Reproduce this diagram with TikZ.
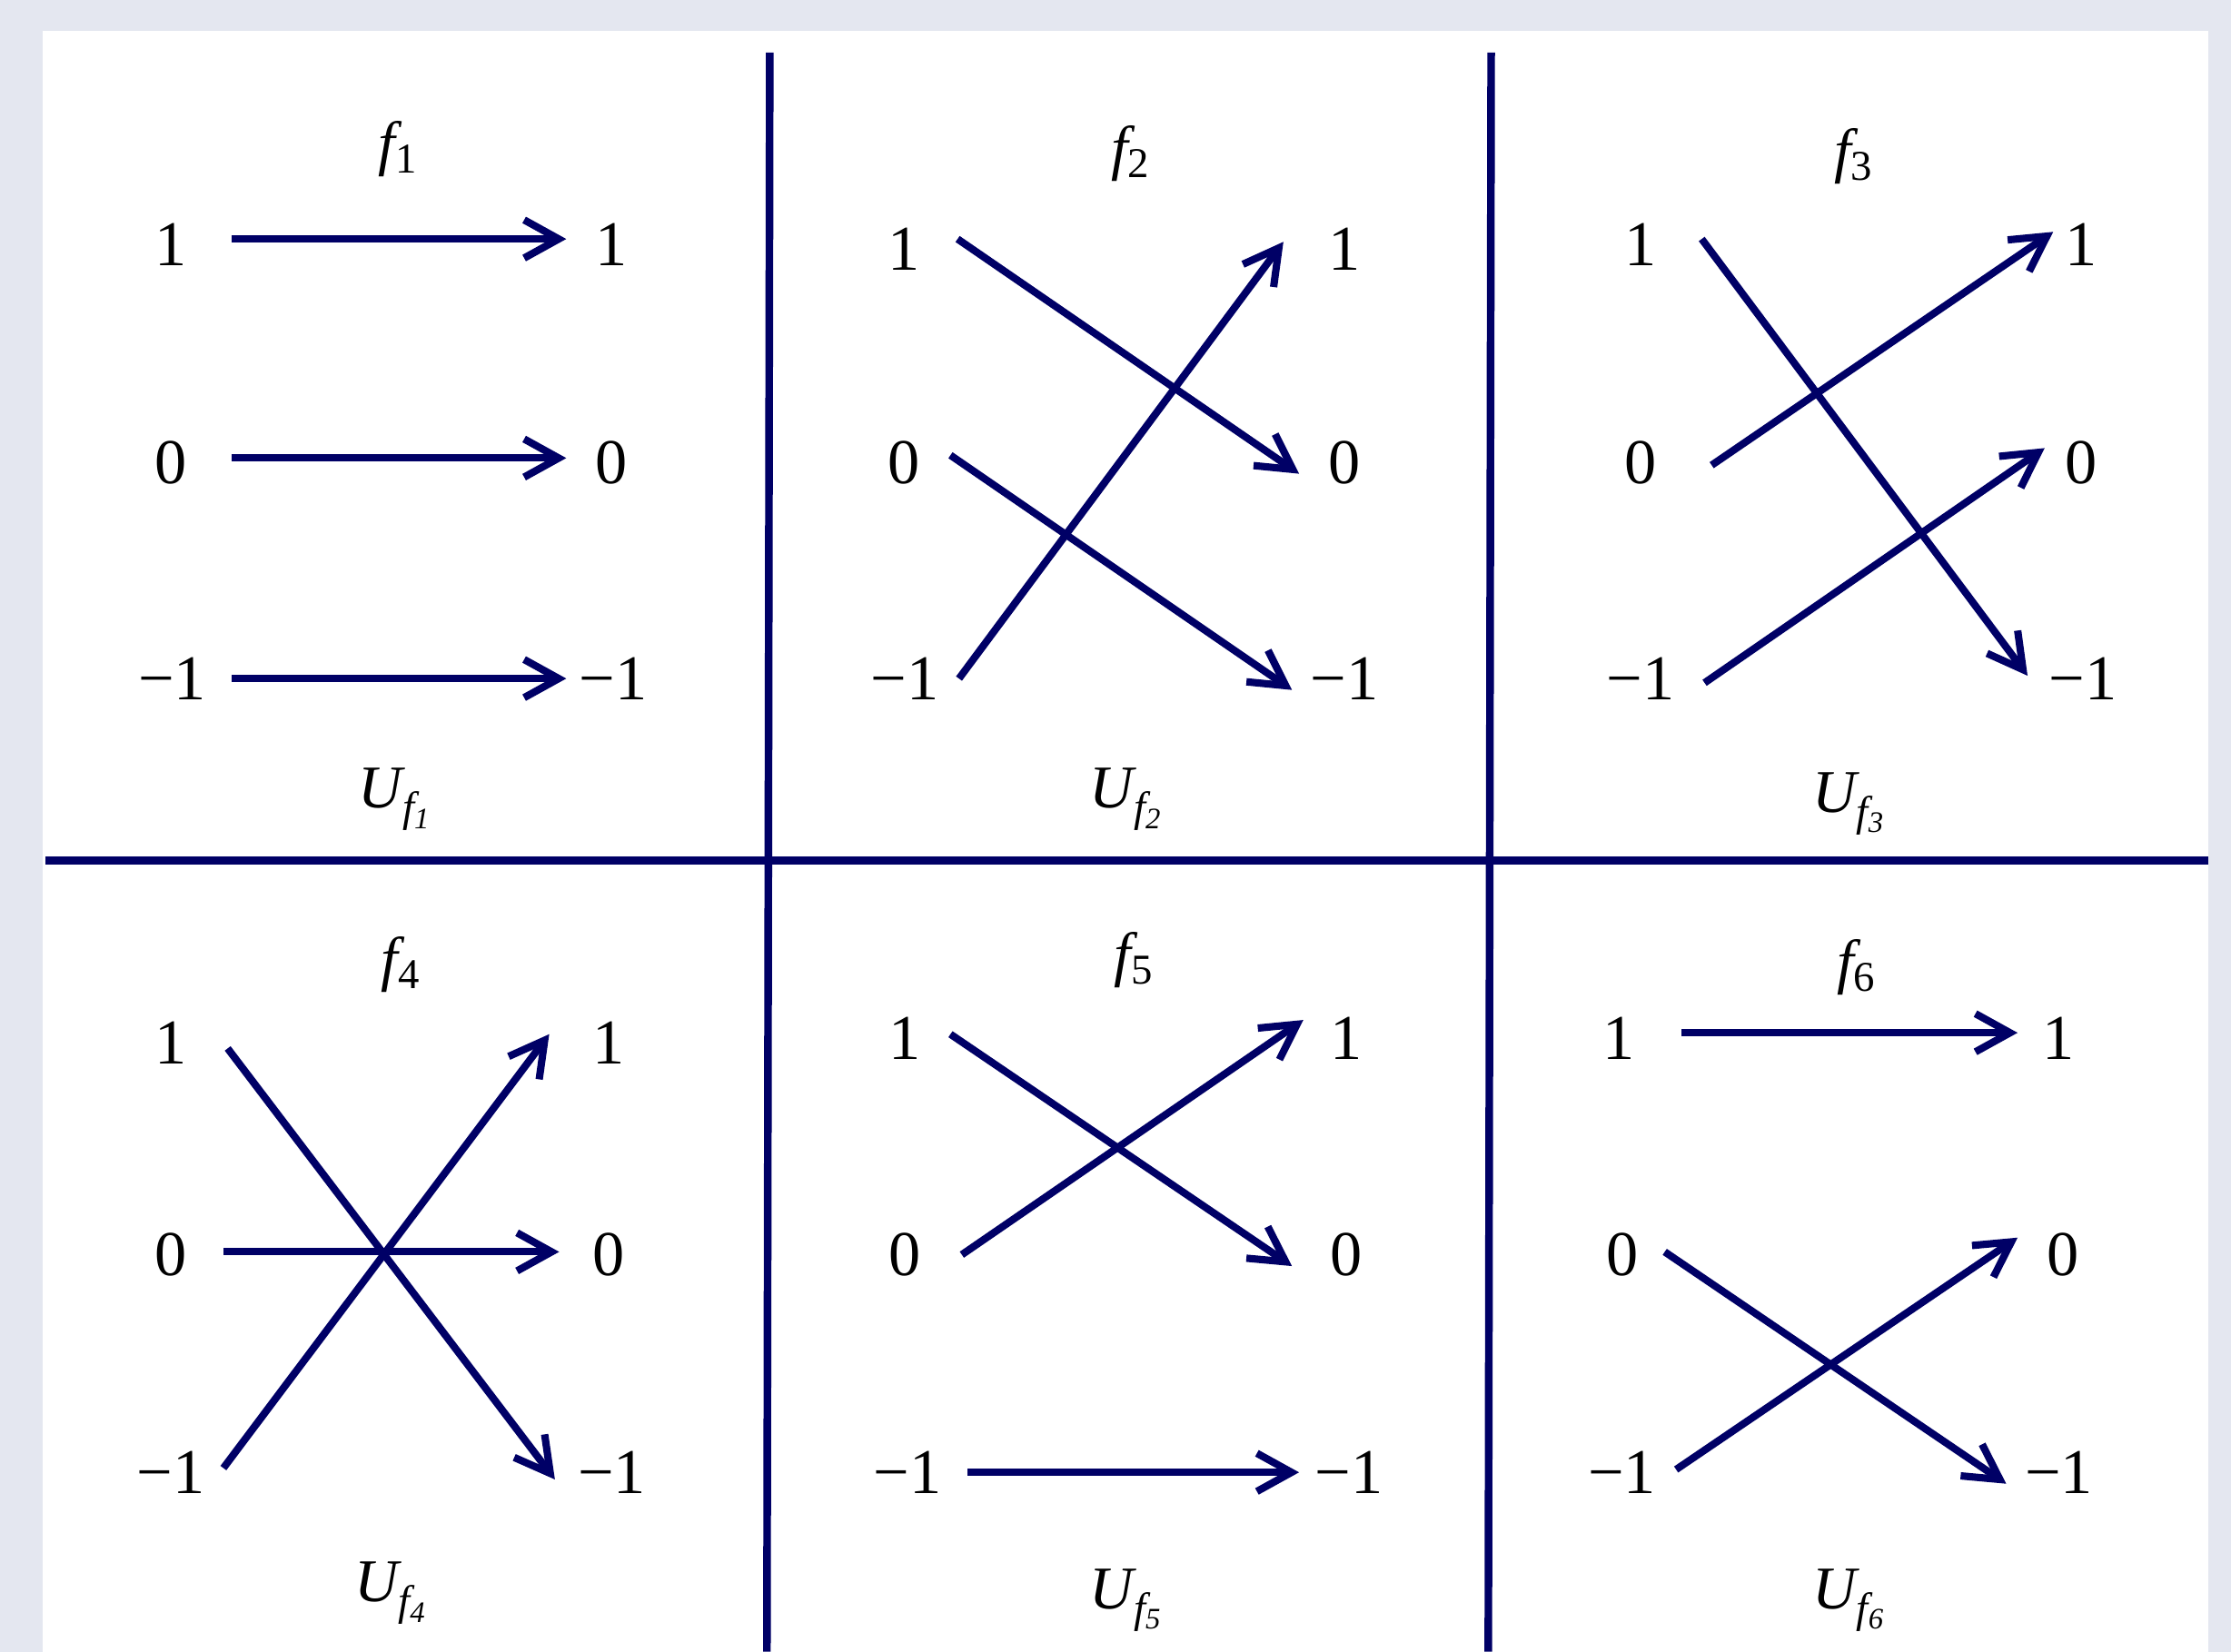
\documentclass[tikz,border=0pt]{standalone}
\usepackage{fontspec}
\setmainfont{Liberation Serif}
\usetikzlibrary{arrows.meta}
\definecolor{navy}{HTML}{000066}
\definecolor{bgc}{HTML}{E4E7F0}
\newcommand{\mysub}[1]{{\itshape U}\textsubscript{\raisebox{-0.25ex}{\itshape f\textsubscript{#1}}}}
\newcommand{\myf}[1]{{\itshape f}\textsubscript{#1}}
\begin{document}
\begin{tikzpicture}[x=0.015663cm,y=-0.015663cm,
  num/.style={inner sep=0pt,font=\fontsize{20}{24}\selectfont},
  lbl/.style={inner sep=0pt,font=\fontsize{19}{23}\selectfont},
  arr/.style={navy,line width=2.3pt,-{Straight Barb[length=3.8mm,width=4.2mm]}},
  sep/.style={navy,line width=2.4pt}]
\fill[bgc] (0,0) rectangle (1568,1161);
\fill[white] (30,22) rectangle (1552,1161);
\useasboundingbox (0,0) rectangle (1568,1161);
% separators
\coordinate (v1t) at (541,37); \coordinate (v1b) at (539,1161);
\coordinate (v2t) at (1048,37); \coordinate (v2b) at (1046,1161);
\coordinate (hl) at (32,605); \coordinate (hr) at (1552,605);
\draw[sep] (v1t) -- (v1b);
\draw[sep] (v2t) -- (v2b);
\draw[sep] (hl) -- (hr);
% ---------- panel 1
\node[lbl] (f1) at (280,105) {\myf{1}};
\node[num] (a1l1) at (120,172) {1};
\node[num] (a1l0) at (120,325) {0};
\node[num] (a1lm) at (121,477) {−1};
\node[num] (a1r1) at (430,172) {1};
\node[num] (a1r0) at (430,325) {0};
\node[num] (a1rm) at (431,477) {−1};
\node[lbl] (u1) at (278,562) {\mysub{1}};
\coordinate (s1a) at (163,168); \coordinate (e1a) at (398,168);
\coordinate (s1b) at (163,322); \coordinate (e1b) at (398,322);
\coordinate (s1c) at (163,477); \coordinate (e1c) at (398,477);
\draw[arr] (s1a) -- (e1a);
\draw[arr] (s1b) -- (e1b);
\draw[arr] (s1c) -- (e1c);
% ---------- panel 2
\node[lbl] (f2) at (795,108) {\myf{2}};
\node[num] (a2l1) at (635,175) {1};
\node[num] (a2l0) at (635,325) {0};
\node[num] (a2lm) at (636,477) {−1};
\node[num] (a2r1) at (945,175) {1};
\node[num] (a2r0) at (945,325) {0};
\node[num] (a2rm) at (945,477) {−1};
\node[lbl] (u2) at (792,562) {\mysub{2}};
\coordinate (s2a) at (673,168); \coordinate (e2a) at (913,333);
\coordinate (s2b) at (668,320); \coordinate (e2b) at (908,485);
\coordinate (s2c) at (674,477); \coordinate (e2c) at (902,170);
\draw[arr] (s2a) -- (e2a);
\draw[arr] (s2b) -- (e2b);
\draw[arr] (s2c) -- (e2c);
% ---------- panel 3
\node[lbl] (f3) at (1303,110) {\myf{3}};
\node[num] (a3l1) at (1153,172) {1};
\node[num] (a3l0) at (1153,325) {0};
\node[num] (a3lm) at (1153,477) {−1};
\node[num] (a3r1) at (1463,172) {1};
\node[num] (a3r0) at (1463,325) {0};
\node[num] (a3rm) at (1464,477) {−1};
\node[lbl] (u3) at (1300,565) {\mysub{3}};
\coordinate (s3a) at (1196,168); \coordinate (e3a) at (1425,475);
\coordinate (s3b) at (1203,327); \coordinate (e3b) at (1443,163);
\coordinate (s3c) at (1198,480); \coordinate (e3c) at (1437,315);
\draw[arr] (s3a) -- (e3a);
\draw[arr] (s3b) -- (e3b);
\draw[arr] (s3c) -- (e3c);
% ---------- panel 4
\node[lbl] (f4) at (282,678) {\myf{4}};
\node[num] (a4l1) at (120,733) {1};
\node[num] (a4l0) at (120,882) {0};
\node[num] (a4lm) at (120,1035) {−1};
\node[num] (a4r1) at (428,733) {1};
\node[num] (a4r0) at (428,882) {0};
\node[num] (a4rm) at (430,1035) {−1};
\node[lbl] (u4) at (275,1120) {\mysub{4}};
\coordinate (s4a) at (160,737); \coordinate (e4a) at (390,1040);
\coordinate (s4b) at (157,880); \coordinate (e4b) at (393,880);
\coordinate (s4c) at (157,1032); \coordinate (e4c) at (386,727);
\draw[arr] (s4a) -- (e4a);
\draw[arr] (s4b) -- (e4b);
\draw[arr] (s4c) -- (e4c);
% ---------- panel 5
\node[lbl] (f5) at (797,675) {\myf{5}};
\node[num] (a5l1) at (636,730) {1};
\node[num] (a5l0) at (636,882) {0};
\node[num] (a5lm) at (638,1035) {−1};
\node[num] (a5r1) at (946,730) {1};
\node[num] (a5r0) at (946,882) {0};
\node[num] (a5rm) at (948,1035) {−1};
\node[lbl] (u5) at (792,1125) {\mysub{5}};
\coordinate (s5a) at (668,727); \coordinate (e5a) at (908,890);
\coordinate (s5b) at (676,882); \coordinate (e5b) at (916,717);
\coordinate (s5c) at (680,1035); \coordinate (e5c) at (913,1035);
\draw[arr] (s5a) -- (e5a);
\draw[arr] (s5b) -- (e5b);
\draw[arr] (s5c) -- (e5c);
% ---------- panel 6
\node[lbl] (f6) at (1305,680) {\myf{6}};
\node[num] (a6l1) at (1138,730) {1};
\node[num] (a6l0) at (1140,882) {0};
\node[num] (a6lm) at (1140,1035) {−1};
\node[num] (a6r1) at (1447,730) {1};
\node[num] (a6r0) at (1450,882) {0};
\node[num] (a6rm) at (1447,1035) {−1};
\node[lbl] (u6) at (1300,1125) {\mysub{6}};
\coordinate (s6a) at (1182,726); \coordinate (e6a) at (1418,726);
\coordinate (s6b) at (1170,880); \coordinate (e6b) at (1410,1043);
\coordinate (s6c) at (1178,1033); \coordinate (e6c) at (1418,870);
\draw[arr] (s6a) -- (e6a);
\draw[arr] (s6b) -- (e6b);
\draw[arr] (s6c) -- (e6c);
\end{tikzpicture}
\end{document}
